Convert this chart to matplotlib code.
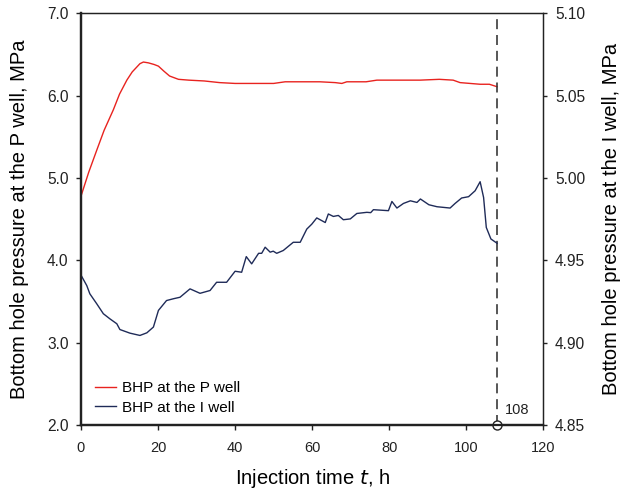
import matplotlib
matplotlib.use('Agg')
import matplotlib.pyplot as plt

plt.rcParams['font.family'] = ['Liberation Sans', 'DejaVu Sans']

# BHP at the P well (left axis, MPa)
p_t = [0, 2, 4.1, 6, 8.4, 10, 11.9, 13.3, 14.5, 15.3, 16.2, 17.5, 19, 20.1, 21.5, 23, 25.3,
       28, 32, 36, 40, 44, 47, 50, 53, 58, 62, 66, 67.7, 69, 72, 74, 76.8, 82, 88, 93, 96.6,
       98.4, 101, 103.6, 106, 108]
p_v = [4.78, 5.07, 5.34, 5.58, 5.83, 6.02, 6.19, 6.29, 6.35, 6.39, 6.41, 6.40, 6.38, 6.36, 6.30, 6.24, 6.20,
       6.19, 6.18, 6.16, 6.15, 6.15, 6.15, 6.15, 6.17, 6.17, 6.17, 6.16, 6.15, 6.17, 6.17, 6.17, 6.19, 6.19, 6.19, 6.20, 6.19,
       6.16, 6.15, 6.14, 6.14, 6.11]

# BHP at the I well (right axis, MPa)
i_t = [0.2, 1.5, 2.3, 4.1, 5.8, 7.5, 9.3, 10.1, 12.7, 15.3, 17.1, 18.8, 20.1, 22.2, 24.0, 25.7,
       28.3, 30.9, 33.5, 35.2, 37.8, 40.0, 41.7, 42.9, 44.3, 46.1, 46.9, 47.8, 49.1, 49.9, 50.8,
       52.5, 55.1, 56.9, 58.6, 59.9, 61.2, 63.4, 64.2, 65.5, 66.8, 68.1, 69.9, 71.6, 74.2, 75.2,
       75.9, 79.8, 80.7, 82.0, 83.7, 85.5, 87.2, 88.1, 90.3, 92.4, 95.8, 97.1, 98.8, 100.6, 102.3,
       103.6, 104.5, 105.2, 106.4, 108]
i_v = [4.9402, 4.9347, 4.9297, 4.9236, 4.9176, 4.9145, 4.9115, 4.9080, 4.9058, 4.9044, 4.9060, 4.9095, 4.9196, 4.9256, 4.9267, 4.9276,
       4.9327, 4.9300, 4.9317, 4.9367, 4.9367, 4.9434, 4.9428, 4.9523, 4.9479, 4.9543, 4.9543, 4.9580, 4.9550, 4.9556, 4.9543,
       4.9560, 4.9610, 4.9610, 4.9690, 4.9720, 4.9758, 4.9730, 4.9782, 4.9767, 4.9773, 4.9747, 4.9752, 4.9785, 4.9792, 4.9790,
       4.9808, 4.9802, 4.9858, 4.9818, 4.9846, 4.9862, 4.9852, 4.9873, 4.9838, 4.9826, 4.9818, 4.9846, 4.9879, 4.9887, 4.9923,
       4.9978, 4.9882, 4.9700, 4.9630, 4.9604]

t_end = 108
x_ticks = [0, 20, 40, 60, 80, 100, 120]
left_ticks = [2.0, 3.0, 4.0, 5.0, 6.0, 7.0]
right_ticks = [4.85, 4.90, 4.95, 5.00, 5.05, 5.10]

fig = plt.figure(figsize=(6.22, 4.92), dpi=100)
ax = fig.add_axes([0.1302, 0.1362, 0.7433, 0.8364])
ax2 = ax.twinx()

red = '#e8231f'
navy = '#1f2b58'
ink = '#222222'

ax.plot(p_t, p_v, color=red, lw=1.0, label='BHP at the P well')
ax2.plot(i_t, i_v, color=navy, lw=1.0, label='BHP at the I well')
ax.axvline(t_end, color='#3a3a3a', lw=1.2, ls=(0, (6, 3.5)))
ax.plot([t_end], [2.0], 'o', ms=6.5, mfc='white', mec=ink, mew=1.0, clip_on=False, zorder=5)
ax.text(t_end + 2.0, 2.18, str(t_end), fontsize=10.5, color=ink, va='center', ha='left')

ax.set_xlim(0, 120)
ax.set_ylim(2.0, 7.0)
ax2.set_ylim(4.85, 5.10)
ax.set_xticks(x_ticks)
ax.set_yticks(left_ticks)
ax.set_yticklabels([f'{v:.1f}' for v in left_ticks])
ax2.set_yticks(right_ticks)
ax2.set_yticklabels([f'{v:.2f}' for v in right_ticks])

ax.tick_params(axis='x', direction='out', length=3.5, width=1.0, pad=8, labelsize=10.5, colors=ink)
ax.tick_params(axis='y', direction='out', length=3.5, width=1.0, pad=5.5, labelsize=11.2, colors=ink)
ax2.tick_params(axis='y', direction='out', length=3, width=1.0, pad=5.5, labelsize=11.2, colors=ink)

for a in (ax, ax2):
    for side, s in a.spines.items():
        s.set_color(ink)
        s.set_linewidth(1.6 if side in ('left', 'bottom') else 0.9)

ax.set_xlabel('Injection time $\\mathit{t}$, h', fontsize=14.5, labelpad=9)
ax.set_ylabel('Bottom hole pressure at the P well, MPa', fontsize=14.5, labelpad=13)
ax2.set_ylabel('Bottom hole pressure at the I well, MPa', fontsize=14.5, labelpad=12)

h1, l1 = ax.get_legend_handles_labels()
h2, l2 = ax2.get_legend_handles_labels()
ax.legend(h1 + h2, l1 + l2, loc='lower left', bbox_to_anchor=(0.03, 0.025), borderaxespad=0,
          borderpad=0, frameon=False, fontsize=11, handlelength=1.4, handletextpad=0.4,
          labelspacing=0.35)

fig.savefig('out.png', dpi=100)
